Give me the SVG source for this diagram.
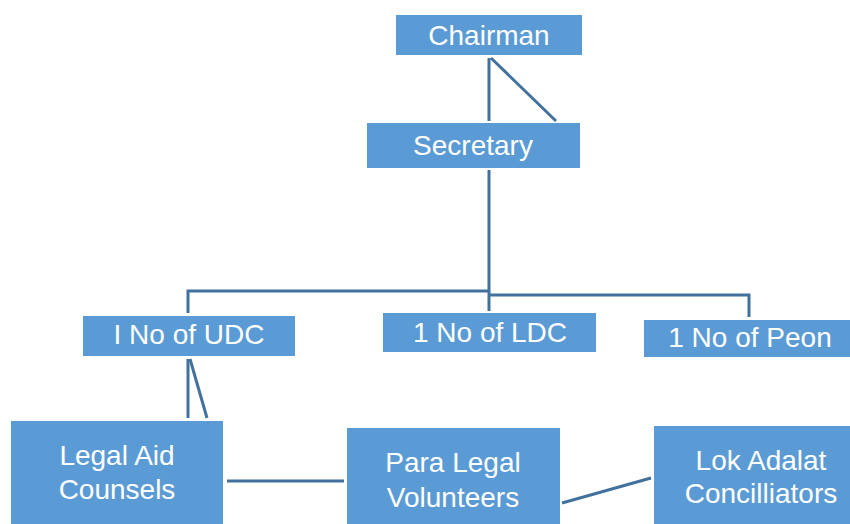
<svg xmlns="http://www.w3.org/2000/svg" width="850" height="524" viewBox="0 0 850 524">
<style>
.box{fill:#5B9BD5;stroke:none}
.lbl{font-family:"Liberation Sans",Arial,sans-serif;font-size:28px;fill:#ffffff;text-anchor:middle}
.con{stroke:#41719C;stroke-width:3;fill:none}
</style>
<rect width="850" height="524" fill="#ffffff"/>
<g id="connectors">
<line class="con" x1="489" y1="58" x2="489" y2="121"/>
<line class="con" x1="491" y1="58" x2="556" y2="121"/>
<polyline class="con" points="489,170 489,311"/>
<polyline class="con" points="188,313 188,291 489,291"/>
<polyline class="con" points="489,295 749,295 749,317"/>
<line class="con" x1="188" y1="359" x2="188" y2="418"/>
<line class="con" x1="190" y1="359" x2="207" y2="418"/>
<line class="con" x1="227" y1="481" x2="344" y2="481"/>
<line class="con" x1="562" y1="503" x2="651" y2="478"/>
</g>
<g id="chairman"><rect class="box" x="396" y="15" width="186" height="40"/><text class="lbl" x="489" y="45">Chairman</text></g>
<g id="secretary"><rect class="box" x="367" y="123" width="213" height="45"/><text class="lbl" x="473" y="155">Secretary</text></g>
<g id="udc"><rect class="box" x="83" y="316" width="212" height="40"/><text class="lbl" x="189" y="344">I No of UDC</text></g>
<g id="ldc"><rect class="box" x="383" y="313" width="213" height="39"/><text class="lbl" x="490" y="342">1 No of LDC</text></g>
<g id="peon"><rect class="box" x="644" y="320" width="206" height="37"/><text class="lbl" x="750" y="347">1 No of Peon</text></g>
<g id="legal-aid"><rect class="box" x="11" y="421" width="212" height="103"/><text class="lbl" x="117" y="465">Legal Aid</text><text class="lbl" x="117" y="499">Counsels</text></g>
<g id="para-legal"><rect class="box" x="347" y="428" width="213" height="96"/><text class="lbl" x="453" y="472">Para Legal</text><text class="lbl" x="453" y="507">Volunteers</text></g>
<g id="lok-adalat"><rect class="box" x="654" y="426" width="196" height="98"/><text class="lbl" x="761" y="470">Lok Adalat</text><text class="lbl" x="761" y="503">Concilliators</text></g>
</svg>
